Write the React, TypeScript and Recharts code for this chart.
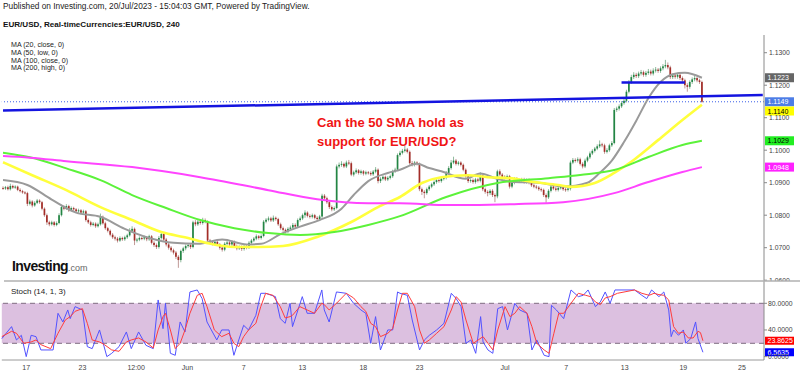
import React from 'react';
import { ComposedChart, Bar, Line, XAxis, YAxis, ReferenceLine, ReferenceArea } from 'recharts';

// ---------- DATA (prices in pips above 1.0000, i.e. 1149 -> 1.1149) ----------
const SLOTS = 313; // 4H candle slots incl. empty future space

const opens = [
  884,882,886,880,890,885,888,878,874,870,
  868,835,842,830,838,845,840,820,800,778,
  772,778,770,776,800,825,820,828,815,822,
  818,812,815,808,812,785,778,770,774,766,
  772,795,775,760,752,740,732,728,722,730,
  726,732,738,752,758,722,725,730,728,732,
  726,735,715,708,702,730,742,725,710,700,
  692,685,672,662,690,698,705,708,702,778,
  772,780,776,785,780,722,716,712,718,710,
  700,694,712,716,710,718,705,698,702,696,
  705,700,715,722,728,735,730,736,780,786,
  790,784,792,788,772,760,755,750,758,762,
  770,765,785,790,800,808,798,795,800,792,
  788,796,860,852,840,825,818,822,950,955,
  958,950,962,960,925,932,938,930,935,928,
  932,930,926,934,940,905,912,918,910,915,
  920,935,940,985,992,998,1002,995,960,955,
  962,958,880,872,868,880,888,895,902,908,
  905,912,915,930,945,962,968,958,962,955,
  940,920,905,908,902,910,906,922,880,872,
  868,875,862,858,935,925,918,915,920,888,
  900,912,908,905,910,902,908,900,892,888,
  885,880,878,862,855,875,888,882,878,884,
  886,880,878,882,962,970,968,972,958,950,
  968,978,990,998,1005,1012,1018,1015,995,1000,
  1015,1022,1124,1128,1135,1145,1152,1180,1210,1225,
  1232,1228,1236,1240,1232,1238,1242,1236,1245,1248,
  1244,1252,1258,1262,1255,1225,1230,1226,1232,1222,
  1215,1200,1195,1210,1218,1222,1215,1210,
];
const highs = [
  889,890,891,897,894,892,891,883,878,874,
  872,848,846,843,850,849,844,824,805,783,
  783,782,781,806,832,830,834,832,827,826,
  822,820,819,817,816,790,783,779,778,777,
  805,799,780,764,756,745,737,733,735,734,
  737,743,760,766,762,730,735,734,737,736,
  740,739,720,713,736,750,746,730,715,705,
  697,690,677,694,703,710,713,713,783,785,
  786,785,792,790,784,727,721,723,722,714,
  705,717,721,720,723,722,710,707,707,712,
  709,720,727,733,741,739,741,785,791,796,
  795,799,796,792,777,765,759,763,768,776,
  775,790,796,805,815,812,803,805,804,797,
  801,866,865,857,845,830,827,956,962,966,
  962,968,970,965,937,944,942,940,939,937,
  936,935,939,948,944,917,923,922,920,925,
  940,946,990,998,1004,1013,1007,999,967,967,
  966,962,885,877,885,893,900,907,913,913,
  917,920,936,951,970,980,973,967,966,959,
  944,925,913,913,915,915,932,926,885,877,
  880,880,867,940,941,930,923,925,924,905,
  917,917,913,915,915,913,913,905,897,893,
  890,885,882,867,880,893,892,887,889,891,
  891,885,887,968,976,975,978,977,963,974,
  983,996,1003,1010,1018,1030,1023,1020,1006,1020,
  1028,1130,1134,1141,1151,1158,1186,1216,1232,1240,
  1238,1242,1247,1245,1244,1250,1248,1252,1256,1253,
  1258,1265,1278,1270,1260,1236,1235,1238,1237,1227,
  1220,1206,1215,1224,1230,1227,1220,1214,
];
const lows = [
  878,878,876,876,881,881,874,870,866,864,
  828,830,824,826,834,835,815,795,770,766,
  768,765,766,772,796,815,816,810,811,813,
  807,807,803,804,780,773,765,766,761,762,
  768,771,755,747,735,727,722,716,718,721,
  721,727,734,747,708,716,720,723,723,720,
  721,710,702,696,697,725,720,704,694,686,
  679,665,638,655,684,692,700,696,698,766,
  767,771,771,775,717,711,707,707,705,694,
  688,689,707,705,705,700,692,693,690,691,
  695,696,710,717,723,725,725,732,775,781,
  779,779,783,767,755,749,744,745,753,757,
  760,760,780,785,792,793,790,790,787,783,
  783,792,846,835,819,812,813,818,944,949,
  945,945,954,920,919,927,925,925,922,923,
  925,921,921,929,898,899,907,905,905,910,
  915,930,936,980,987,993,990,955,950,950,
  953,874,862,852,863,875,883,890,897,900,
  900,907,910,925,940,957,953,953,950,935,
  915,899,900,897,897,901,901,874,866,858,
  862,856,840,852,920,913,910,910,882,883,
  895,903,900,900,897,897,895,887,883,880,
  875,872,856,838,850,870,877,873,873,879,
  875,872,873,876,957,962,962,953,944,945,
  963,973,985,993,1000,1007,1009,989,990,995,
  1010,1018,1118,1122,1130,1140,1147,1175,1204,1219,
  1222,1222,1230,1226,1226,1232,1230,1230,1239,1238,
  1238,1246,1252,1249,1219,1219,1220,1220,1216,1208,
  1190,1180,1189,1204,1212,1209,1204,1146,
];
const closes = [
  882,886,880,890,885,888,878,874,870,868,
  835,842,830,838,845,840,820,800,778,772,
  778,770,776,800,825,820,828,815,822,818,
  812,815,808,812,785,778,770,774,766,772,
  795,775,760,752,740,732,728,722,730,726,
  732,738,752,758,722,725,730,728,732,726,
  735,715,708,702,730,742,725,710,700,692,
  685,672,662,690,698,705,708,702,778,772,
  780,776,785,780,722,716,712,718,710,700,
  694,712,716,710,718,705,698,702,696,705,
  700,715,722,728,735,730,736,780,786,790,
  784,792,788,772,760,755,750,758,762,770,
  765,785,790,800,808,798,795,800,792,788,
  796,860,852,840,825,818,822,950,955,958,
  950,962,960,925,932,938,930,935,928,932,
  930,926,934,940,905,912,918,910,915,920,
  935,940,985,992,998,1002,995,960,955,962,
  958,880,872,868,880,888,895,902,908,905,
  912,915,930,945,962,968,958,962,955,940,
  920,905,908,902,910,906,922,880,872,868,
  875,862,858,935,925,918,915,920,888,900,
  912,908,905,910,902,908,900,892,888,885,
  880,878,862,855,875,888,882,878,884,886,
  880,878,882,962,970,968,972,958,950,968,
  978,990,998,1005,1012,1018,1015,995,1000,1015,
  1022,1124,1128,1135,1145,1152,1180,1210,1225,1232,
  1228,1236,1240,1232,1238,1242,1236,1245,1248,1244,
  1252,1258,1262,1255,1225,1230,1226,1232,1222,1215,
  1200,1195,1210,1218,1222,1215,1210,1149,
];

// moving averages read at [candle index, value in pips]
const ma20: [number, number][] = [
  [0,908],[10,893],[20,848],[30,808],[40,795],[50,758],[60,730],[70,715],[80,712],[90,725],
  [100,710],[106,712],[114,742],[122,765],[130,785],[139,820],[144,862],[150,905],[158,930],
  [163,940],[170,958],[175,945],[180,935],[190,912],[196,928],[203,912],[210,902],[220,900],
  [230,888],[240,900],[245,930],[250,968],[255,1025],[260,1090],[265,1160],[270,1210],
  [275,1234],[280,1238],[287,1223],
];
const ma50: [number, number][] = [
  [0,963],[12,923],[26,877],[40,825],[53,785],[65,748],[76,730],[84,714],[95,702],[105,702],
  [115,705],[129,733],[143,779],[154,825],[163,856],[172,899],[180,917],[191,923],[199,917],
  [208,914],[218,902],[228,893],[233,887],[243,899],[251,930],[259,970],[269,1031],
  [279,1093],[287,1140],
];
const ma100: [number, number][] = [
  [0,992],[11,978],[26,944],[40,908],[53,862],[67,822],[81,785],[95,760],[109,745],[122,739],
  [136,748],[150,770],[163,797],[182,856],[203,899],[224,914],[237,924],[251,939],[265,979],
  [279,1016],[287,1029],
];
const ma200: [number, number][] = [
  [0,982],[11,977],[26,966],[53,948],[81,917],[109,877],[129,849],[150,837],[163,837],
  [183,831],[210,834],[230,840],[251,868],[265,902],[279,933],[287,948],
];

// stochastic %K and %D read at [candle index, value]
const stochK: [number, number][] = [
  [0,27],[4,45],[6,25],[8,32],[10,0],[12,32],[14,30],[16,10],[21,10],[23,65],[25,52],[27,70],
  [28,57],[30,75],[33,70],[35,15],[37,12],[40,40],[43,0],[45,5],[48,15],[51,37],[53,12],[56,37],
  [59,17],[62,12],[64,85],[66,42],[67,80],[69,5],[71,2],[73,52],[75,37],[77,97],[80,100],[82,87],
  [84,52],[88,25],[90,40],[93,40],[95,2],[97,25],[99,47],[101,40],[104,62],[106,95],[108,95],
  [112,90],[114,57],[116,50],[118,80],[119,45],[123,90],[125,65],[128,65],[131,100],[132,70],
  [134,52],[137,97],[141,95],[144,80],[147,70],[149,65],[151,20],[153,60],[155,10],[158,40],
  [160,40],[162,97],[163,95],[166,92],[168,55],[171,10],[173,25],[175,32],[178,40],[181,50],
  [184,95],[186,87],[188,75],[190,20],[192,25],[194,5],[196,60],[197,22],[199,10],[201,5],
  [203,72],[205,75],[207,40],[210,80],[212,70],[215,65],[217,10],[219,25],[222,2],[224,0],
  [225,77],[227,70],[230,57],[233,100],[236,90],[238,92],[240,100],[243,75],[245,82],[247,97],
  [249,80],[251,100],[259,100],[262,92],[264,87],[266,100],[269,90],[271,97],[273,70],[274,30],
  [275,40],[277,32],[279,40],[280,20],[282,27],[284,52],[285,27],[287,6.5635],
];
const stochD: [number, number][] = [
  [0,30],[4,38],[6,35],[9,20],[12,22],[14,25],[16,18],[20,12],[23,35],[26,55],[28,60],[30,68],
  [33,72],[35,50],[37,25],[40,22],[42,18],[45,10],[48,8],[51,22],[53,25],[56,28],[59,22],[62,13],
  [64,40],[66,60],[67,65],[69,40],[71,12],[73,20],[75,40],[77,65],[80,92],[82,95],[84,75],[87,40],
  [90,30],[93,35],[95,20],[97,15],[99,30],[101,40],[104,50],[106,75],[108,95],[111,92],[114,75],
  [116,58],[118,60],[119,62],[122,75],[125,70],[128,65],[131,80],[132,78],[134,70],[137,80],
  [141,95],[144,88],[147,75],[149,68],[151,50],[153,45],[155,30],[158,35],[160,42],[162,70],
  [164,95],[166,95],[169,75],[171,40],[173,20],[175,25],[178,35],[181,45],[184,70],[186,90],
  [188,82],[190,55],[193,20],[195,25],[197,30],[199,20],[201,10],[203,40],[206,75],[208,60],
  [210,65],[212,75],[215,65],[217,45],[219,20],[222,10],[224,5],[226,35],[228,65],[230,65],
  [233,80],[236,95],[239,92],[241,90],[243,82],[245,78],[247,88],[249,90],[252,95],[259,100],
  [262,95],[265,92],[267,95],[269,93],[271,92],[273,85],[275,45],[277,35],[279,37],[281,28],
  [283,28],[285,38],[286,36],[287,23.8625],
];

const xTickIdx = [10, 33, 55, 76, 99, 123, 148, 171, 206, 231, 255, 279, 303];
const xTickLabels = ['17', '23', '12:00', 'Jun', '7', '13', '18', '23', 'Jul', '7', '13', '19', '25'];
const priceTicks = [600, 700, 800, 900, 1000, 1100, 1200, 1300];
const stochTicks = [0, 40, 80];
const maLegend = ['MA (20, close, 0)', 'MA (50, low, 0)', 'MA (100, close, 0)', 'MA (200, high, 0)'];

const trendline = [{ x: 0, y: 1122 }, { x: 312, y: 1170 }];
const resistance = [{ x: 254, y: 1208 }, { x: 280, y: 1208 }];
const lastClose = 1149;
const maLast = { ma20: 1223, ma50: 1140, ma100: 1029, ma200: 948 };
const stochLast = { k: 6.5635, d: 23.8625 };
const stochBand = [20, 80];

// ---------- build rows ----------
type Row = { [k: string]: any };
const rows: Row[] = Array.from({ length: SLOTS }, (_, i) => {
  const has = i < closes.length;
  return {
    i,
    range: has ? [lows[i], highs[i]] : null,
    o: has ? opens[i] : null,
    h: has ? highs[i] : null,
    l: has ? lows[i] : null,
    c: has ? closes[i] : null,
    ma20: null, ma50: null, ma100: null, ma200: null, k: null, d: null,
  };
});
const put = (arr: [number, number][], key: string) => arr.forEach(([i, v]) => { rows[i][key] = v; });
put(ma20, 'ma20'); put(ma50, 'ma50'); put(ma100, 'ma100'); put(ma200, 'ma200');
put(stochK, 'k'); put(stochD, 'd');

const FONT = 'Arial, "Liberation Sans", sans-serif';
const fmtPrice = (v: number) => (1 + v / 10000).toFixed(4);

const Candle = (props: any) => {
  const { x, y, width, height, payload } = props;
  if (!payload || payload.c == null || height == null) return null;
  const top = Math.min(y, y + height);
  const h = Math.abs(height);
  const span = payload.h - payload.l || 1;
  const k = h / span;
  const yo = top + (payload.h - payload.o) * k;
  const yc = top + (payload.h - payload.c) * k;
  const up = payload.c >= payload.o;
  const cx = x + width / 2;
  const bw = 1.7;
  const bt = Math.min(yo, yc);
  const bh = Math.max(Math.abs(yc - yo), 1);
  return (
    <g>
      <line x1={cx} x2={cx} y1={top} y2={top + h} stroke={up ? '#8fb99c' : '#c09a97'} strokeWidth={1} />
      <rect x={cx - bw / 2} y={bt} width={bw} height={bh} fill={up ? '#238544' : '#a32d28'} />
    </g>
  );
};

const tag = (text: string, bg: string, fg: string, dy = 0, h = 9) => (props: any) => {
  const vb = props.viewBox || {};
  const x = (vb.x || 0) + (vb.width || 0) + 1;
  const y = (vb.y || 0) + dy;
  return (
    <g>
      <rect x={x} y={y - h / 2} width={29} height={h} fill={bg} />
      <text x={x + 2.5} y={y + 2.5} fontSize={7} fill={fg} fontFamily={FONT}>{text}</text>
    </g>
  );
};

export default function App() {
  return (
    <div style={{ position: 'absolute', left: 0, top: 0, width: 800, height: 376, background: '#fff', overflow: 'hidden', fontFamily: FONT }}>
      <div style={{ position: 'absolute', left: 0, top: 0 }}>
        <ComposedChart width={800} height={281} data={rows} margin={{ top: 35, right: 0, bottom: 0, left: 1.8 }}>
          <XAxis dataKey="i" type="category" hide />
          <YAxis
            orientation="right" type="number" width={36}
            domain={[597.5, 1354.5]} allowDataOverflow ticks={priceTicks} interval={0}
            tickFormatter={fmtPrice}
            axisLine={{ stroke: '#8a8a8a' }} tickLine={{ stroke: '#8a8a8a' }} tickSize={3} tickMargin={2}
            tick={{ fontSize: 6.8, fill: '#444', fontFamily: FONT }}
          />
          <ReferenceLine y={lastClose} stroke="#3a5ee8" strokeDasharray="1 2" strokeWidth={1} />
          <Line dataKey="ma20" type="monotone" stroke="#9a9a9a" strokeWidth={2} dot={false} connectNulls isAnimationActive={false} />
          <Line dataKey="ma50" type="monotone" stroke="#ffff3c" strokeWidth={2.6} dot={false} connectNulls isAnimationActive={false} />
          <Line dataKey="ma100" type="monotone" stroke="#5cf23a" strokeWidth={2} dot={false} connectNulls isAnimationActive={false} />
          <Line dataKey="ma200" type="monotone" stroke="#ff44ff" strokeWidth={2} dot={false} connectNulls isAnimationActive={false} />
          <Bar dataKey="range" shape={Candle} isAnimationActive={false} />
          <ReferenceLine segment={trendline} stroke="#1414e0" strokeWidth={2.5} />
          <ReferenceLine segment={resistance} stroke="#1414e0" strokeWidth={2.5} />
          <ReferenceLine y={maLast.ma20} stroke="none" label={tag(fmtPrice(maLast.ma20), '#666666', '#fff')} />
          <ReferenceLine y={lastClose} stroke="none" label={tag(fmtPrice(lastClose), '#4d7de6', '#fff')} />
          <ReferenceLine y={maLast.ma50} stroke="none" label={tag(fmtPrice(maLast.ma50), '#ffff00', '#000', 6.3)} />
          <ReferenceLine y={maLast.ma100} stroke="none" label={tag(fmtPrice(maLast.ma100), '#22ee22', '#000')} />
          <ReferenceLine y={maLast.ma200} stroke="none" label={tag(fmtPrice(maLast.ma200), '#ff22ff', '#fff')} />
        </ComposedChart>
      </div>
      <div style={{ position: 'absolute', left: 0, top: 281, background: '#fff' }}>
        <ComposedChart width={800} height={95} data={rows} margin={{ top: 0, right: 0, bottom: 0, left: 1.8 }}>
          <XAxis
            dataKey="i" type="category" ticks={xTickIdx} interval={0} height={16}
            tickFormatter={(v: number) => xTickLabels[xTickIdx.indexOf(v)] ?? ''}
            axisLine={{ stroke: '#9a9a9a' }} tickLine={false} tickSize={3} tickMargin={2}
            tick={{ fontSize: 7, fill: '#444', fontFamily: FONT }}
          />
          <YAxis
            orientation="right" type="number" width={36}
            domain={[-5.05, 113.45]} allowDataOverflow ticks={stochTicks} interval={0}
            tickFormatter={(v: number) => v.toFixed(4)}
            axisLine={{ stroke: '#8a8a8a' }} tickLine={{ stroke: '#8a8a8a' }} tickSize={3} tickMargin={1}
            tick={{ fontSize: 6.8, fill: '#444', fontFamily: FONT }}
          />
          <ReferenceArea y1={stochBand[0]} y2={stochBand[1]} fill="#dcc0e0" fillOpacity={1} stroke="none" />
          <ReferenceLine y={stochBand[1]} stroke="#7f6c80" strokeDasharray="5 4" />
          <ReferenceLine y={stochBand[0]} stroke="#7f6c80" strokeDasharray="5 4" />
          <Line dataKey="k" type="linear" stroke="#5252ff" strokeWidth={1} dot={false} connectNulls isAnimationActive={false} />
          <Line dataKey="d" type="linear" stroke="#ff3c3c" strokeWidth={1} dot={false} connectNulls isAnimationActive={false} />
          <ReferenceLine y={stochLast.d} stroke="none" label={tag(stochLast.d.toFixed(4), '#ff0000', '#fff', 0, 8)} />
          <ReferenceLine y={stochLast.k} stroke="none" label={tag(stochLast.k.toFixed(4), '#0000ff', '#fff', 0, 8)} />
        </ComposedChart>
      </div>
      <svg width={800} height={376} style={{ position: 'absolute', left: 0, top: 0, pointerEvents: 'none' }} fontFamily={FONT}>
        <text x={3} y={9} fontSize={8.3} fill="#222">Published on Investing.com, 20/Jul/2023 - 15:04:03 GMT, Powered by TradingView.</text>
        <text x={3} y={26.5} fontSize={8.1} fontWeight="bold" fill="#111">EUR/USD, Real-timeCurrencies:EUR/USD, 240</text>
        {maLegend.map((t, k) => (
          <text key={t} x={11} y={47 + k * 7.8} fontSize={7.1} fill="#222">{t}</text>
        ))}
        <text x={317} y={127} fontSize={13} fontWeight="bold" fill="#f01414">Can the 50 SMA hold as</text>
        <text x={317} y={146} fontSize={13} fontWeight="bold" fill="#f01414">support for EUR/USD?</text>
        <text x={12} y={271} fontSize={14} fontWeight="bold" fill="#111" letterSpacing={-0.6}>
          Investing<tspan fontSize={9} fontWeight="normal" fill="#666" letterSpacing={0}>.com</tspan>
        </text>
        <text x={11} y={293.5} fontSize={8} fill="#222">Stoch (14, 1, 3)</text>
        <line x1={4} x2={800} y1={281} y2={281} stroke="#b0b0b0" strokeWidth={1.5} />
      </svg>
    </div>
  );
}
